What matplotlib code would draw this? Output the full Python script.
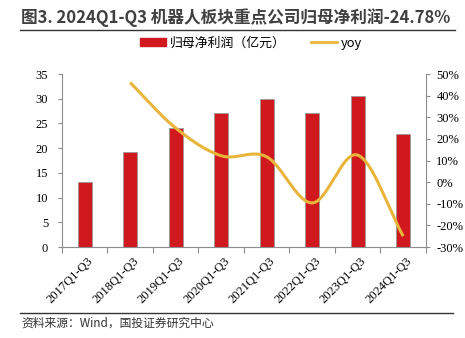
import numpy as np
import matplotlib
matplotlib.use('Agg')
import matplotlib.pyplot as plt
from matplotlib.patches import Patch
from matplotlib.lines import Line2D

plt.rcParams['font.family'] = ['Noto Sans CJK SC', 'DejaVu Sans']

cats = ['2017Q1-Q3', '2018Q1-Q3', '2019Q1-Q3', '2020Q1-Q3',
        '2021Q1-Q3', '2022Q1-Q3', '2023Q1-Q3', '2024Q1-Q3']
profit = [13.2, 19.2, 24.0, 27.1, 30.0, 27.1, 30.5, 22.9]
yoy = [None, 46.0, 25.0, 12.2, 11.7, -9.6, 12.5, -25.0]

red = '#D0181F'
gold = '#E8B53A'
grey = '#8C8C8C'
serif = 'Liberation Serif'


def smooth(xs, ys, n=30):
    # catmull-rom, just for drawing a smoothed line like excel does
    xs = np.asarray(xs, float); ys = np.asarray(ys, float)
    px = np.concatenate([[2 * xs[0] - xs[1]], xs, [2 * xs[-1] - xs[-2]]])
    py = np.concatenate([[2 * ys[0] - ys[1]], ys, [2 * ys[-1] - ys[-2]]])
    ox, oy = [], []
    for i in range(1, len(px) - 2):
        t = np.linspace(0, 1, n)
        for arr, out in ((px, ox), (py, oy)):
            p0, p1, p2, p3 = arr[i - 1], arr[i], arr[i + 1], arr[i + 2]
            out.extend(0.5 * (2 * p1 + (-p0 + p2) * t + (2 * p0 - 5 * p1 + 4 * p2 - p3) * t ** 2
                              + (-p0 + 3 * p1 - 3 * p2 + p3) * t ** 3))
    return np.array(ox), np.array(oy)


fig = plt.figure(figsize=(4.65, 3.38), dpi=100)
ax = fig.add_axes([0.1333, 0.2692, 0.7828, 0.5118])
x = np.arange(len(cats))
ax.bar(x, profit, width=0.31, color=red, edgecolor='#9a9a9a', linewidth=0.6, zorder=2)
ax.set_xlim(-0.5, 7.5)
ax.set_ylim(0, 35)
ax.set_yticks(range(0, 36, 5))
ax.set_xticks(np.arange(-0.5, 8, 1))
ax.set_xticklabels([])
ax.tick_params(axis='x', length=4, color=grey, direction='out')
ax.tick_params(axis='y', length=3, color=grey, labelsize=9, pad=7)
for lab in ax.get_yticklabels():
    lab.set_fontfamily(serif)
for i, c in enumerate(cats):
    ax.text(i + 0.05, -1.6, c, rotation=45, ha='right', va='top', rotation_mode='anchor',
            fontsize=9, fontfamily=serif, transform=ax.transData)
for s in ['top', 'right']:
    ax.spines[s].set_visible(False)
for s in ['left', 'bottom']:
    ax.spines[s].set_color(grey)

ax2 = ax.twinx()
ax2.set_ylim(-30, 50)
ax2.set_yticks(range(-30, 51, 10))
ax2.set_yticklabels([f'{v}%' for v in range(-30, 51, 10)])
ax2.tick_params(axis='y', length=3, color=grey, labelsize=9, pad=4.5)
for lab in ax2.get_yticklabels():
    lab.set_fontfamily(serif)
for s in ['top', 'left', 'bottom']:
    ax2.spines[s].set_visible(False)
ax2.spines['right'].set_color(grey)
yx = [i for i, v in enumerate(yoy) if v is not None]
yv = [v for v in yoy if v is not None]
sx, sy = smooth(yx, yv)
ax2.plot(sx, sy, color=gold, linewidth=2.2, solid_capstyle='butt', zorder=3)

fig.text(0.046, 0.948, '图3. 2024Q1-Q3 机器人板块重点公司归母净利润-24.78%',
         fontsize=12, fontweight='bold', color='#404040', va='center', ha='left')
fig.add_artist(Line2D([0.043, 0.978], [0.911, 0.911], color='#333333', linewidth=1))

handles = [Patch(color=red), Line2D([0], [0], color=gold, linewidth=2)]
fig.legend(handles, ['归母净利润（亿元）', 'yoy'], loc='center', bbox_to_anchor=(0.54, 0.872),
           ncol=2, frameon=False, fontsize=9.3, handlelength=2.0, handleheight=0.6,
           columnspacing=2.0, handletextpad=0.3)

fig.add_artist(Line2D([0.043, 0.975], [0.074, 0.074], color='#333333', linewidth=1))
fig.text(0.046, 0.045, '资料来源：Wind，国投证券研究中心', fontsize=8.5, style='italic',
         color='#333333', va='center', ha='left')

fig.savefig('out.png', dpi=100)
